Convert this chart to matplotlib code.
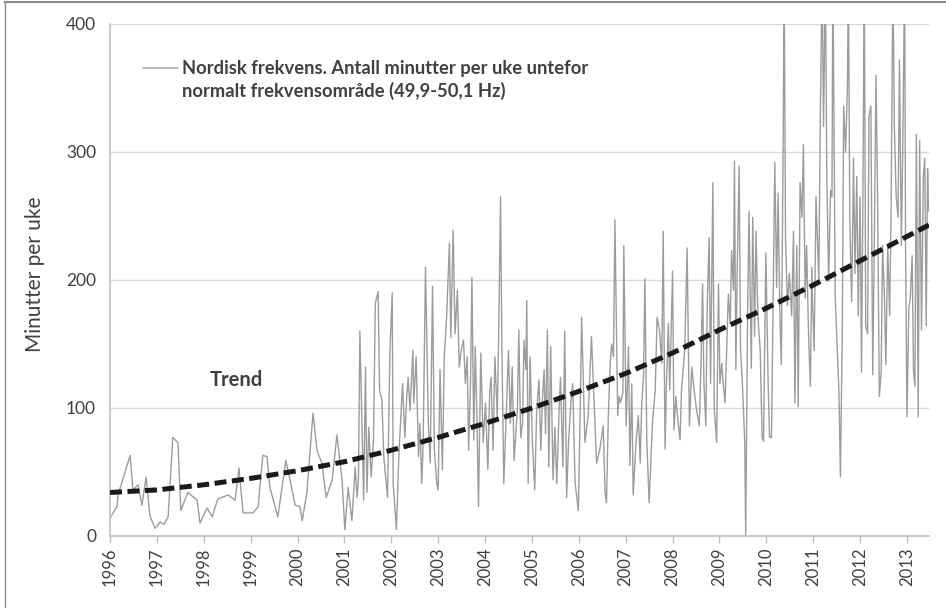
import matplotlib
matplotlib.use("Agg")
import matplotlib.pyplot as plt
from matplotlib.lines import Line2D

# ---- data ----
years = [
    1996.00, 1996.15, 1996.17, 1996.43, 1996.49, 1996.60, 1996.68, 1996.77, 1996.85, 1996.96,
    1997.07, 1997.15, 1997.24, 1997.34, 1997.45, 1997.51, 1997.66, 1997.86, 1997.92, 1998.07,
    1998.18, 1998.30, 1998.52, 1998.67, 1998.75, 1998.84, 1999.05, 1999.16, 1999.26, 1999.35,
    1999.41, 1999.58, 1999.75, 1999.84, 1999.95, 2000.05, 2000.10, 2000.20, 2000.33, 2000.42,
    2000.52, 2000.61, 2000.74, 2000.84, 2000.95, 2001.01, 2001.08, 2001.16, 2001.23, 2001.27,
    2001.30, 2001.33, 2001.41, 2001.45, 2001.48, 2001.52, 2001.57, 2001.62, 2001.66, 2001.72,
    2001.75, 2001.80, 2001.84, 2001.92, 2001.97, 2002.02, 2002.04, 2002.11, 2002.16, 2002.24,
    2002.29, 2002.33, 2002.36, 2002.40, 2002.46, 2002.48, 2002.53, 2002.58, 2002.61, 2002.65,
    2002.68, 2002.73, 2002.79, 2002.83, 2002.88, 2002.92, 2002.97, 2003.00, 2003.04, 2003.09,
    2003.13, 2003.18, 2003.24, 2003.27, 2003.32, 2003.36, 2003.41, 2003.45, 2003.49, 2003.54,
    2003.58, 2003.62, 2003.65, 2003.69, 2003.72, 2003.76, 2003.79, 2003.83, 2003.86, 2003.91,
    2003.96, 2004.01, 2004.06, 2004.10, 2004.13, 2004.17, 2004.21, 2004.26, 2004.29, 2004.33,
    2004.36, 2004.40, 2004.45, 2004.50, 2004.54, 2004.58, 2004.62, 2004.67, 2004.69, 2004.72,
    2004.76, 2004.80, 2004.83, 2004.87, 2004.89, 2004.92, 2004.96, 2005.01, 2005.06, 2005.10,
    2005.15, 2005.19, 2005.22, 2005.26, 2005.29, 2005.33, 2005.36, 2005.40, 2005.45, 2005.49,
    2005.53, 2005.58, 2005.61, 2005.66, 2005.70, 2005.74, 2005.78, 2005.83, 2005.87, 2005.92,
    2005.99, 2006.03, 2006.06, 2006.13, 2006.20, 2006.27, 2006.31, 2006.38, 2006.45, 2006.52,
    2006.56, 2006.59, 2006.63, 2006.67, 2006.70, 2006.74, 2006.77, 2006.80, 2006.83, 2006.86,
    2006.89, 2006.94, 2006.96, 2007.01, 2007.06, 2007.09, 2007.13, 2007.16, 2007.22, 2007.27,
    2007.31, 2007.34, 2007.38, 2007.41, 2007.45, 2007.50, 2007.53, 2007.57, 2007.63, 2007.67,
    2007.72, 2007.77, 2007.80, 2007.84, 2007.87, 2007.91, 2007.94, 2008.00, 2008.03, 2008.07,
    2008.12, 2008.16, 2008.19, 2008.23, 2008.26, 2008.31, 2008.36, 2008.41, 2008.46, 2008.51,
    2008.57, 2008.61, 2008.64, 2008.67, 2008.71, 2008.74, 2008.78, 2008.81, 2008.86, 2008.89,
    2008.94, 2008.98, 2009.01, 2009.05, 2009.08, 2009.12, 2009.15, 2009.19, 2009.23, 2009.26,
    2009.30, 2009.32, 2009.35, 2009.38, 2009.42, 2009.45, 2009.49, 2009.54, 2009.56, 2009.60,
    2009.63, 2009.68, 2009.71, 2009.75, 2009.78, 2009.82, 2009.87, 2009.91, 2009.94, 2009.99,
    2010.04, 2010.07, 2010.11, 2010.14, 2010.18, 2010.22, 2010.25, 2010.29, 2010.32, 2010.36,
    2010.38, 2010.41, 2010.45, 2010.49, 2010.54, 2010.58, 2010.61, 2010.65, 2010.68, 2010.72,
    2010.76, 2010.79, 2010.83, 2010.86, 2010.90, 2010.94, 2010.97, 2010.99, 2011.02, 2011.06,
    2011.12, 2011.15, 2011.19, 2011.22, 2011.26, 2011.29, 2011.33, 2011.37, 2011.40, 2011.42,
    2011.47, 2011.51, 2011.55, 2011.58, 2011.62, 2011.65, 2011.69, 2011.73, 2011.75, 2011.78,
    2011.82, 2011.86, 2011.89, 2011.93, 2011.96, 2012.00, 2012.03, 2012.06, 2012.09, 2012.12,
    2012.16, 2012.19, 2012.23, 2012.27, 2012.30, 2012.34, 2012.37, 2012.41, 2012.45, 2012.48,
    2012.52, 2012.55, 2012.59, 2012.63, 2012.66, 2012.70, 2012.73, 2012.77, 2012.81, 2012.84,
    2012.88, 2012.91, 2012.95, 2012.97, 2013.00, 2013.04, 2013.07, 2013.11, 2013.14, 2013.17,
    2013.20, 2013.24, 2013.27, 2013.31, 2013.35, 2013.38, 2013.41, 2013.44, 2013.46,
]
minutes = [
    14, 23, 32, 63, 36, 40, 24, 46, 16, 6,
    11, 9, 15, 77, 73, 20, 34, 28, 10, 22,
    15, 29, 32, 28, 53, 18, 18, 23, 63, 62,
    38, 15, 59, 44, 24, 23, 12, 34, 96, 66,
    57, 30, 44, 79, 44, 5, 38, 12, 54, 30,
    45, 160, 28, 132, 34, 85, 46, 75, 182, 191,
    114, 106, 62, 30, 143, 190, 41, 5, 62, 119,
    77, 109, 124, 98, 145, 104, 140, 62, 88, 41,
    73, 210, 88, 57, 195, 67, 41, 36, 130, 52,
    140, 171, 229, 155, 239, 158, 192, 132, 145, 153,
    119, 140, 67, 119, 202, 75, 148, 88, 23, 143,
    73, 104, 52, 114, 124, 67, 140, 93, 155, 265,
    145, 41, 93, 145, 88, 132, 59, 88, 98, 161,
    77, 88, 153, 130, 184, 41, 140, 73, 36, 96,
    122, 67, 104, 130, 80, 161, 54, 148, 44, 85,
    41, 98, 124, 54, 160, 30, 73, 104, 119, 42,
    20, 99, 171, 73, 94, 156, 119, 57, 68, 86,
    34, 26, 94, 135, 150, 140, 247, 171, 94, 109,
    104, 112, 227, 86, 148, 55, 119, 32, 73, 94,
    57, 101, 125, 201, 75, 26, 52, 88, 114, 171,
    161, 135, 238, 68, 119, 166, 114, 207, 83, 109,
    88, 75, 114, 132, 145, 225, 86, 132, 114, 99,
    86, 140, 197, 119, 86, 181, 233, 119, 276, 99,
    73, 197, 119, 135, 119, 104, 140, 189, 166, 223,
    192, 293, 130, 210, 289, 145, 119, 73, 0, 172,
    254, 131, 249, 156, 238, 172, 145, 77, 74, 221,
    117, 77, 77, 172, 292, 194, 268, 172, 134, 309,
    440, 232, 180, 205, 172, 238, 104, 227, 101, 276,
    249, 306, 186, 227, 158, 117, 210, 178, 145, 265,
    199, 322, 440, 320, 440, 281, 199, 270, 265, 440,
    186, 150, 112, 46, 158, 336, 300, 350, 440, 249,
    183, 295, 205, 281, 172, 265, 128, 265, 440, 164,
    158, 328, 336, 126, 221, 360, 276, 109, 128, 227,
    186, 134, 227, 172, 249, 440, 322, 265, 249, 372,
    227, 303, 440, 227, 93, 178, 186, 219, 128, 117,
    314, 93, 309, 161, 281, 295, 164, 287, 254,
]

trend_years = [1996, 1997, 1998, 1999, 2000, 2001, 2002, 2003, 2004, 2005,
               2006, 2007, 2008, 2009, 2010, 2011, 2012, 2013, 2013.47]
trend_values = [34, 36, 40, 45, 51, 58, 67, 77, 88, 100,
                113, 127, 143, 161, 178, 196, 215, 234, 243]

year_ticks = list(range(1996, 2014))
y_ticks = [0, 100, 200, 300, 400]

legend_text = ("Nordisk frekvens. Antall minutter per uke untefor\n"
               "normalt frekvensområde (49,9-50,1 Hz)")

# ---- figure ----
W, H = 946, 608
fig = plt.figure(figsize=(W / 100, H / 100), dpi=100)
fig.patch.set_facecolor("white")
ax = fig.add_axes([110 / W, (H - 536) / H, (929 - 110) / W, 512 / H])

ax.plot(years, minutes, color="#9c9c9c", lw=1.0, zorder=2, clip_on=True)
ax.plot(trend_years, trend_values, color="#1a1a1a", lw=3.6,
        linestyle=(0, (2.4, 1.1)), dash_capstyle="butt", zorder=3)

ax.set_xlim(1996, 2013.47)
ax.set_ylim(0, 400)
ax.set_yticks(y_ticks)
ax.set_xticks(year_ticks)
ax.set_xticklabels([str(y) for y in year_ticks], rotation=90,
                   fontsize=12, color="#404040", family="Lato")
ax.set_yticklabels([str(v) for v in y_ticks], fontsize=12.5,
                   color="#404040", family="Lato")
ax.tick_params(axis="y", length=0, pad=10)
ax.tick_params(axis="x", length=5, width=1, color="#bfbfbf", pad=3, direction="out")

ax.grid(axis="y", color="#d9d9d9", lw=1)
ax.set_axisbelow(True)
for s in ["top", "right"]:
    ax.spines[s].set_visible(False)
for s in ["left", "bottom"]:
    ax.spines[s].set_color("#bfbfbf")
    ax.spines[s].set_linewidth(1.2)

fig.text(35 / W, (H - 274) / H, "Minutter per uke", rotation=90,
         fontsize=15, color="#404040", family="Lato", ha="center", va="center")

# legend-like annotation
fig.add_artist(Line2D([143 / W, 178 / W], [(H - 68) / H, (H - 68) / H],
                      color="#b0b0b0", lw=1.2))
fig.text(182 / W, (H - 80) / H, legend_text, fontsize=13.2, fontweight="bold",
         color="#404040", family="Lato", va="center", ha="left",
         linespacing=1.3)
fig.text(210 / W, (H - 380) / H, "Trend", fontsize=14.5, fontweight="bold",
         color="#404040", family="Lato", va="center", ha="left")

# outer chart border
fig.add_artist(Line2D([5 / W, 1.0], [(H - 2) / H, (H - 2) / H], color="#8c8c8c", lw=1.5))
fig.add_artist(Line2D([5 / W, 5 / W], [0, (H - 2) / H], color="#8c8c8c", lw=1.0))

fig.savefig("out.png", dpi=100)
